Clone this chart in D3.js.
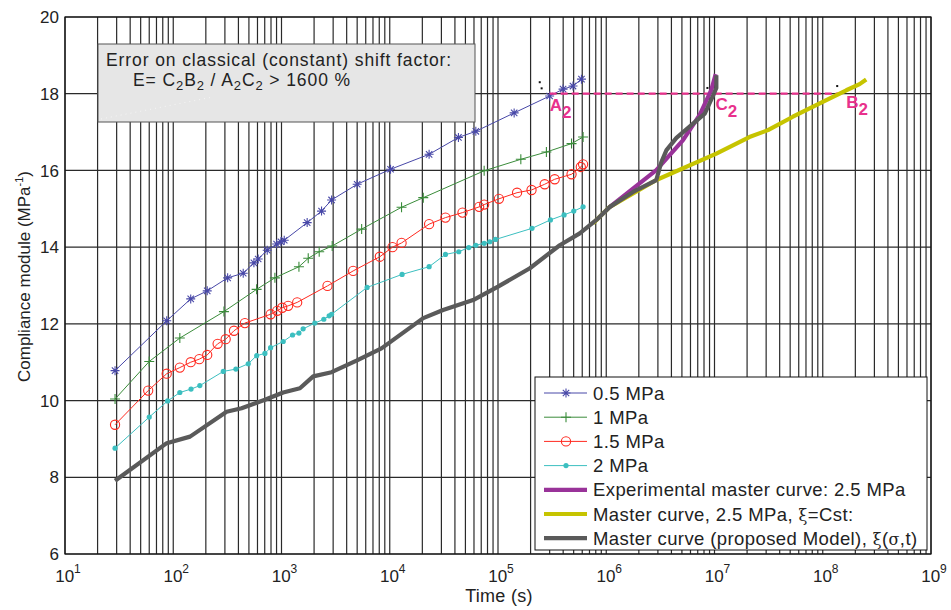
<!DOCTYPE html>
<html>
<head>
<meta charset="utf-8">
<script src="https://cdn.jsdelivr.net/npm/d3@7"></script>
<style>
  body { margin: 0; background: #fff; }
  text { font-family: "Liberation Sans", Arial, sans-serif; }
</style>
</head>
<body>
<div id="chart"></div>
<script>
// data (time in s, compliance in MPa^-1)
var t05 = [29, 87, 145, 206, 318, 443, 556, 609, 738, 901, 988, 1060, 1726, 2344, 2902, 5000, 10170, 23100, 43100, 62400, 141000, 300000, 399000, 493000, 590000];
var j05 = [10.78, 12.08, 12.65, 12.86, 13.20, 13.32, 13.59, 13.69, 13.92, 14.08, 14.14, 14.18, 14.64, 14.94, 15.23, 15.64, 16.03, 16.42, 16.86, 17.02, 17.50, 17.94, 18.12, 18.20, 18.38];

var t1 = [29, 60, 115, 294, 589, 869, 1449, 1766, 2230, 2940, 5500, 12850, 20400, 74500, 162500, 280000, 478000, 611000];
var j1 = [10.04, 11.02, 11.63, 12.32, 12.90, 13.20, 13.49, 13.71, 13.88, 14.03, 14.47, 15.04, 15.29, 15.99, 16.29, 16.48, 16.70, 16.87];

var t15 = [29, 58.7, 87, 115, 145, 174, 206, 257, 305, 364, 459, 793, 912, 1015, 1152, 1396, 2660, 4590, 8100, 10600, 12860, 23100, 32700, 47000, 67000, 74500, 102000, 150000, 204000, 270000, 334000, 478000, 582000, 611000];
var j15 = [9.37, 10.26, 10.70, 10.86, 11.00, 11.08, 11.19, 11.48, 11.60, 11.82, 12.02, 12.25, 12.34, 12.42, 12.47, 12.56, 12.99, 13.38, 13.75, 14.00, 14.11, 14.60, 14.77, 14.90, 15.05, 15.11, 15.26, 15.42, 15.49, 15.64, 15.77, 15.90, 16.09, 16.16];

var t2 = [29, 60, 88.7, 115, 146, 176, 290, 379, 493, 589, 703, 793, 1037, 1265, 1449, 1585, 2032, 2460, 2755, 2900, 6180, 13000, 23100, 32700, 43400, 53700, 62400, 74500, 84000, 94800, 206000, 305000, 408000, 501000, 611000];
var j2 = [8.76, 9.57, 9.99, 10.21, 10.30, 10.39, 10.76, 10.82, 10.96, 11.17, 11.23, 11.38, 11.54, 11.71, 11.76, 11.87, 12.02, 12.12, 12.21, 12.25, 12.95, 13.29, 13.49, 13.81, 13.88, 13.99, 14.05, 14.10, 14.14, 14.20, 14.49, 14.71, 14.84, 14.94, 15.05];

var tExp = [1.08e6, 2.9e6, 5.12e6, 7.3e6, 9.35e6, 1.026e7];
var jExp = [15.05, 16.01, 16.79, 17.45, 18.10, 18.51];

var tCst = [7.57e5, 1.08e6, 2.9e6, 1.04e7, 2.1e7, 3.12e7, 5.3e7, 1.0e8, 1.65e8, 2.19e8, 2.52e8];
var jCst = [14.62, 15.05, 15.75, 16.44, 16.87, 17.05, 17.40, 17.79, 18.09, 18.25, 18.37];

var tModel = [29, 87, 143, 311, 428, 703, 1037, 1480, 1963, 2900, 4930, 8390, 20400, 31100, 58900, 100000, 197000, 372000, 569000, 811000, 1.08e6, 1.77e6, 2.9e6, 3.23e6, 3.6e6, 4.45e6, 8.13e6, 9.7e6, 1.04e7, 1.04e7];
var jModel = [7.91, 8.89, 9.06, 9.71, 9.80, 10.02, 10.21, 10.32, 10.63, 10.74, 11.04, 11.36, 12.15, 12.36, 12.62, 12.97, 13.45, 14.05, 14.36, 14.71, 15.05, 15.44, 15.75, 16.22, 16.53, 16.85, 17.48, 17.95, 18.15, 18.48];

// A2 -> B2 at J = 18
var tDash = [3.0e5, 1.48e8];
var jDash = 18;
var tDots = [2.43e5, 2.53e5, 8.6e6, 1.36e8];
var jDots = [18.30, 18.14, 18.15, 18.20];

var xDecades = [1, 2, 3, 4, 5, 6, 7, 8, 9];
var yTicks = [6, 8, 10, 12, 14, 16, 18, 20];

var legendLabels = ["0.5 MPa", "1 MPa", "1.5 MPa", "2 MPa",
  "Experimental master curve: 2.5 MPa",
  "Master curve, 2.5 MPa, ξ=Cst:",
  "Master curve (proposed Model), ξ(σ,t)"];

// set the dimensions and margins of the graph
var margin = {top: 17, right: 20, bottom: 56, left: 65},
    width = 951 - margin.left - margin.right,
    height = 610 - margin.top - margin.bottom;

var svg = d3.select("#chart")
  .append("svg")
    .attr("width", 951)
    .attr("height", 610)
  .append("g")
    .attr("transform", "translate(" + margin.left + "," + margin.top + ")");

var x = d3.scaleLog().domain([10, 1e9]).range([0, width]);
var y = d3.scaleLinear().domain([6, 20]).range([height, 0]);

// grid
var minor = [];
for (var d = 1; d < 9; d++) for (var m = 1; m < 10; m++) minor.push(m * Math.pow(10, d));
minor.push(1e9);
svg.append("g").selectAll("line").data(minor).enter().append("line")
  .attr("x1", function(t) { return x(t); }).attr("x2", function(t) { return x(t); })
  .attr("y1", 0).attr("y2", height)
  .attr("stroke", "#2a2a2a").attr("stroke-width", 1.2);
svg.append("g").selectAll("line").data(yTicks).enter().append("line")
  .attr("x1", 0).attr("x2", width)
  .attr("y1", function(v) { return y(v); }).attr("y2", function(v) { return y(v); })
  .attr("stroke", "#2a2a2a").attr("stroke-width", 1.2);

// axes box
svg.append("rect").attr("width", width).attr("height", height)
  .attr("fill", "none").attr("stroke", "#111").attr("stroke-width", 1.2);

// y tick labels
svg.append("g").selectAll("text").data(yTicks).enter().append("text")
  .attr("x", -6).attr("y", function(v) { return y(v); })
  .attr("dy", "0.36em").attr("text-anchor", "end")
  .style("font-size", "17px").attr("fill", "#222")
  .text(function(v) { return v; });

// x tick labels 10^n
var xl = svg.append("g").selectAll("text").data(xDecades).enter().append("text")
  .attr("x", function(n) { return x(Math.pow(10, n)) + 3; })
  .attr("y", height + 28)
  .attr("text-anchor", "middle")
  .style("font-size", "17px").attr("fill", "#222");
xl.append("tspan").text("10");
xl.append("tspan").attr("dy", -9).style("font-size", "12px").text(function(n) { return n; });

// axis titles
svg.append("text").attr("x", width / 2 + 1).attr("y", height + 48)
  .attr("text-anchor", "middle").style("font-size", "18px").style("letter-spacing", "0.3px")
  .attr("fill", "#222")
  .text("Time (s)");
var yt = svg.append("text")
  .attr("transform", "translate(" + (-35) + "," + (height / 2 - 9) + ") rotate(-90)")
  .attr("text-anchor", "middle").style("font-size", "17px").attr("fill", "#222");
yt.append("tspan").text("Compliance module (MPa");
yt.append("tspan").attr("dy", -7).style("font-size", "11px").text("-1");
yt.append("tspan").attr("dy", 7).text(")");

// lines
function zip(ts, js) { return ts.map(function(t, i) { return {t: t, j: js[i]}; }); }
var line = d3.line().x(function(p) { return x(p.t); }).y(function(p) { return y(p.j); });

var thin = [
  {data: zip(t05, j05), color: "#4848a8", mark: "star"},
  {data: zip(t1, j1), color: "#3a8c3a", mark: "plus"},
  {data: zip(t15, j15), color: "#ff2a20", mark: "circle"},
  {data: zip(t2, j2), color: "#3cbfc0", mark: "dot"}
];
var thick = [
  {data: zip(tCst, jCst), color: "#c6c400"},
  {data: zip(tExp, jExp), color: "#993399"},
  {data: zip(tModel, jModel), color: "#5a5a5a"}
];

function drawMarker(g, kind, color) {
  if (kind == "star") {
    g.append("path").attr("d", "M-4.5,0H4.5M0,-4.5V4.5M-3.2,-3.2L3.2,3.2M-3.2,3.2L3.2,-3.2")
      .attr("stroke", color).attr("stroke-width", 1.1).attr("fill", "none");
  } else if (kind == "plus") {
    g.append("path").attr("d", "M-5,0H5M0,-5V5")
      .attr("stroke", color).attr("stroke-width", 1.1).attr("fill", "none");
  } else if (kind == "circle") {
    g.append("circle").attr("r", 4.6)
      .attr("stroke", color).attr("stroke-width", 1.1).attr("fill", "none");
  } else {
    g.append("circle").attr("r", 2.6).attr("fill", color);
  }
}

thin.forEach(function(s) {
  svg.append("path").datum(s.data).attr("d", line)
    .attr("fill", "none").attr("stroke", s.color).attr("stroke-width", 1);
  svg.append("g").selectAll("g").data(s.data).enter().append("g")
    .attr("transform", function(p) { return "translate(" + x(p.t) + "," + y(p.j) + ")"; })
    .each(function() { drawMarker(d3.select(this), s.mark, s.color); });
});

// dashed A2-B2 line
svg.append("line")
  .attr("x1", x(tDash[0])).attr("x2", x(tDash[1]))
  .attr("y1", y(jDash)).attr("y2", y(jDash))
  .attr("stroke", "#e8318c").attr("stroke-width", 2.2).attr("stroke-dasharray", "7,4");

thick.forEach(function(s) {
  svg.append("path").datum(s.data).attr("d", line)
    .attr("fill", "none").attr("stroke", s.color).attr("stroke-width", 4.2)
    .attr("stroke-linejoin", "round");
});

// small dots
svg.append("g").selectAll("rect").data(zip(tDots, jDots)).enter().append("rect")
  .attr("x", function(p) { return x(p.t) - 1; }).attr("y", function(p) { return y(p.j) - 1; })
  .attr("width", 2).attr("height", 2).attr("fill", "#111");

// A2, B2, C2 labels
var pts = [{t: 3.0e5, dx: 0, dy: 17, l: "A"}, {t: 1.0e7, dx: 1, dy: 16, l: "C"}, {t: 1.48e8, dx: 5, dy: 14, l: "B"}];
pts.forEach(function(p) {
  var tx = svg.append("text").attr("x", x(p.t) + p.dx).attr("y", y(jDash) + p.dy)
    .style("font-size", "17px").style("font-weight", "bold").attr("fill", "#e8318c");
  tx.append("tspan").text(p.l);
  tx.append("tspan").attr("dy", 7).text("2");
});

// text box
var bx = 98 - margin.left, by = 44 - margin.top;
svg.append("rect").attr("x", bx).attr("y", by).attr("width", 377).attr("height", 78)
  .attr("fill", "#e6e6e6").attr("stroke", "#555").attr("stroke-width", 1);
svg.append("line").attr("x1", bx + 3).attr("y1", by + 75).attr("x2", bx + 115).attr("y2", by + 53)
  .attr("stroke", "#f6f6f6").attr("stroke-width", 1).attr("stroke-dasharray", "1,4");
svg.append("text").attr("x", bx + 8).attr("y", by + 22)
  .style("font-size", "17.5px").style("letter-spacing", "0.9px").attr("fill", "#222")
  .text("Error on classical (constant) shift factor:");
var e = svg.append("text").attr("x", bx + 35).attr("y", by + 42)
  .style("font-size", "17.5px").style("letter-spacing", "0.9px").attr("fill", "#222");
[["E= C", 0], ["2", 4], ["B", -4], ["2", 4], [" / A", -4], ["2", 4], ["C", -4], ["2", 4], [" > 1600 %", -4]]
  .forEach(function(s) {
    var ts = e.append("tspan").attr("dy", s[1]).text(s[0]);
    if (s[0] == "2") ts.style("font-size", "13px");
  });

// legend
var lg = svg.append("g").attr("transform", "translate(" + (535 - margin.left) + "," + (377 - margin.top) + ")");
lg.append("rect").attr("width", 392).attr("height", 173)
  .attr("fill", "#fff").attr("stroke", "#111").attr("stroke-width", 1);
var items = thin.concat([thick[1], thick[0], thick[2]]);
items.forEach(function(s, i) {
  var yy = 16 + i * 24.2;
  lg.append("line").attr("x1", 9).attr("x2", 52).attr("y1", yy).attr("y2", yy)
    .attr("stroke", s.color).attr("stroke-width", s.mark ? 1 : 4.2);
  if (s.mark) {
    var g = lg.append("g").attr("transform", "translate(31," + yy + ")");
    drawMarker(g, s.mark, s.color);
  }
  var tx = lg.append("text").attr("x", 58).attr("y", yy).attr("dy", "0.36em")
    .style("font-size", "18.5px").style("letter-spacing", "0.4px").attr("fill", "#222");
  var parts = legendLabels[i].split(/([ξσ])/);
  parts.forEach(function(p) {
    var ts = tx.append("tspan").text(p);
    if (p == "ξ" || p == "σ") ts.style("font-family", "'DejaVu Serif', serif").style("font-size", "16px");
  });
});
</script>
</body>
</html>
